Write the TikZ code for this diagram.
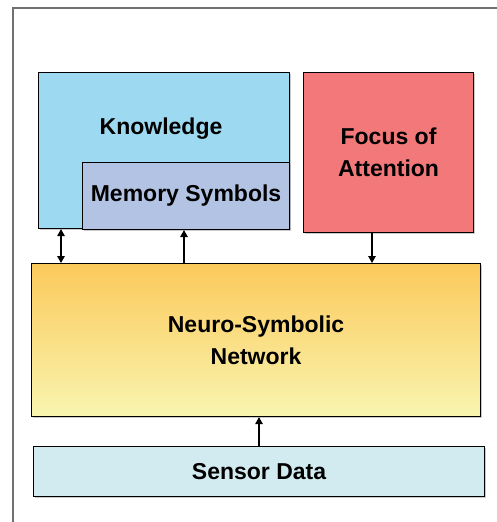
\documentclass[tikz,border=0pt]{standalone}
\usepackage{fontspec}
\setmainfont{Liberation Sans}
\usetikzlibrary{arrows.meta,shadows}
\definecolor{knowblue}{HTML}{9DDAF2}
\definecolor{memblue}{HTML}{B3C3E3}
\definecolor{focusred}{HTML}{F2787A}
\definecolor{sensblue}{HTML}{D2EBF1}
\definecolor{netorange}{HTML}{FCC95B}
\definecolor{netyellow}{HTML}{F8F5B0}
\definecolor{framegray}{HTML}{707070}
\tikzset{
  labelfont/.style={font=\fontsize{23}{32}\selectfont\bfseries},
  block/.style={draw=black, line width=1.1pt, inner sep=0pt, align=center, labelfont,
    drop shadow={shadow xshift=1pt, shadow yshift=-1pt, fill=black!35, opacity=0.6}},
  tip/.tip={Triangle[length=7pt,width=7.5pt]},
  link/.style={line width=1.4pt, -tip},
  dlink/.style={line width=1.4pt, tip-tip},
}
\begin{document}
\begin{tikzpicture}[x=1pt, y=-1pt]
  \useasboundingbox (0,0) rectangle (497,522);
  % outer frame, open on the right and bottom
  \draw[framegray, line width=1.8pt] (13,522) -- (13,8) -- (497,8);

  % knowledge with its memory-symbols inset
  \node[block, fill=knowblue, minimum width=251pt, minimum height=156pt,
        anchor=north west] (know) at (38,72) {};
  \node[labelfont] (knowtext) at (161,129) {Knowledge};
  \node[block, fill=memblue, minimum width=207pt, minimum height=67pt,
        anchor=north west] (mem) at (82,162) {Memory Symbols};

  % focus of attention
  \node[block, fill=focusred, minimum width=170pt, minimum height=160pt,
        anchor=north west] (focus) at (303,72) {Focus of\\Attention};

  % network with vertical gradient
  \node[block, top color=netorange, bottom color=netyellow,
        minimum width=449pt, minimum height=153pt,
        anchor=north west] (net) at (31,263) {Neuro-Symbolic\\Network};

  % sensor input
  \node[block, fill=sensblue, minimum width=451pt, minimum height=50pt,
        anchor=north west] (sens) at (33,446) {Sensor Data};

  % connectors
  \draw[dlink] (know.south west -| 61,0) -- (net.north west -| 61,0);
  \draw[link] (net.north west -| 184,0) -- (mem.south west -| 184,0);
  \draw[link] (focus.south west -| 372,0) -- (net.north west -| 372,0);
  \draw[link] (sens.north west -| 259,0) -- (net.south west -| 259,0);
\end{tikzpicture}
\end{document}
